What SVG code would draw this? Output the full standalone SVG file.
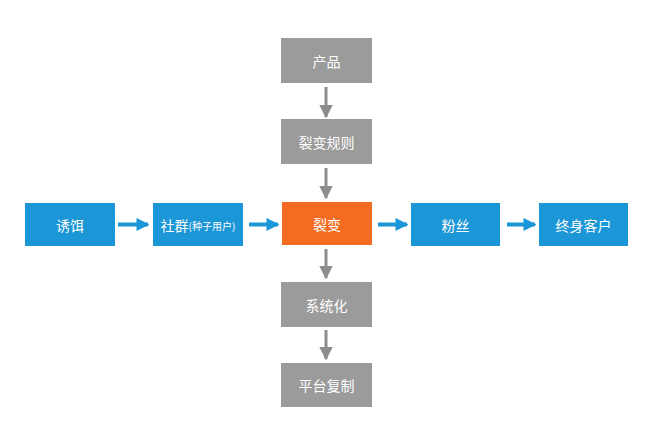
<svg xmlns="http://www.w3.org/2000/svg" width="670" height="448" viewBox="0 0 670 448">
<defs>
<style>
.blue{fill:#1b96d6}
.orange{fill:#f36c21}
.gray{fill:#9b9b9b}
.t{fill:#fff;font-family:"Noto Sans CJK SC","Noto Sans",sans-serif;font-size:14px;text-anchor:middle;dominant-baseline:central}
.small{font-size:10px}
.hl{stroke:#1b96d6;stroke-width:4;fill:none}
.vl{stroke:#8c8c8c;stroke-width:3;fill:none}
</style>
<marker id="ab" viewBox="0 0 10 10" refX="9" refY="5" markerWidth="3.2" markerHeight="3.2" orient="auto" markerUnits="strokeWidth"><path d="M0,0 L10,5 L0,10 z" fill="#1b96d6"/></marker>
<marker id="ag" viewBox="0 0 10 10" refX="9" refY="5" markerWidth="4.5" markerHeight="4.5" orient="auto" markerUnits="strokeWidth"><path d="M0,0 L10,5 L0,10 z" fill="#8c8c8c"/></marker>
</defs>
<rect width="670" height="448" fill="#fff"/>
<g id="connectors">
<line class="hl" x1="118" y1="224.5" x2="148" y2="224.5" marker-end="url(#ab)"/>
<line class="hl" x1="249" y1="224.5" x2="278" y2="224.5" marker-end="url(#ab)"/>
<line class="hl" x1="378" y1="224.5" x2="407" y2="224.5" marker-end="url(#ab)"/>
<line class="hl" x1="507" y1="224.5" x2="535" y2="224.5" marker-end="url(#ab)"/>
<line class="vl" x1="326" y1="87" x2="326" y2="117" marker-end="url(#ag)"/>
<line class="vl" x1="326" y1="168" x2="326" y2="198" marker-end="url(#ag)"/>
<line class="vl" x1="326" y1="249" x2="326" y2="278" marker-end="url(#ag)"/>
<line class="vl" x1="326" y1="330" x2="326" y2="359" marker-end="url(#ag)"/>
</g>
<g id="n-youer"><rect class="blue" x="25" y="203" width="90" height="43"/><text class="t" x="70" y="224.5">诱饵</text></g>
<g id="n-shequn"><rect class="blue" x="153" y="203" width="90" height="43"/><text class="t" x="198" y="224.5"><tspan>社群</tspan><tspan class="small">(种子用户)</tspan></text></g>
<g id="n-liebian"><rect class="orange" x="282" y="202" width="90" height="43"/><text class="t" x="327" y="223.5">裂变</text></g>
<g id="n-fensi"><rect class="blue" x="411" y="203" width="89" height="43"/><text class="t" x="455.5" y="224.5">粉丝</text></g>
<g id="n-kehu"><rect class="blue" x="539" y="203" width="89" height="43"/><text class="t" x="583.5" y="224.5">终身客户</text></g>
<g id="n-chanpin"><rect class="gray" x="281" y="38" width="91" height="45"/><text class="t" x="326.5" y="60.5">产品</text></g>
<g id="n-guize"><rect class="gray" x="281" y="119" width="91" height="45"/><text class="t" x="326.5" y="141.5">裂变规则</text></g>
<g id="n-xitong"><rect class="gray" x="281" y="282" width="91" height="45"/><text class="t" x="326.5" y="304.5">系统化</text></g>
<g id="n-pingtai"><rect class="gray" x="281" y="363" width="91" height="44"/><text class="t" x="326.5" y="385">平台复制</text></g>
</svg>
